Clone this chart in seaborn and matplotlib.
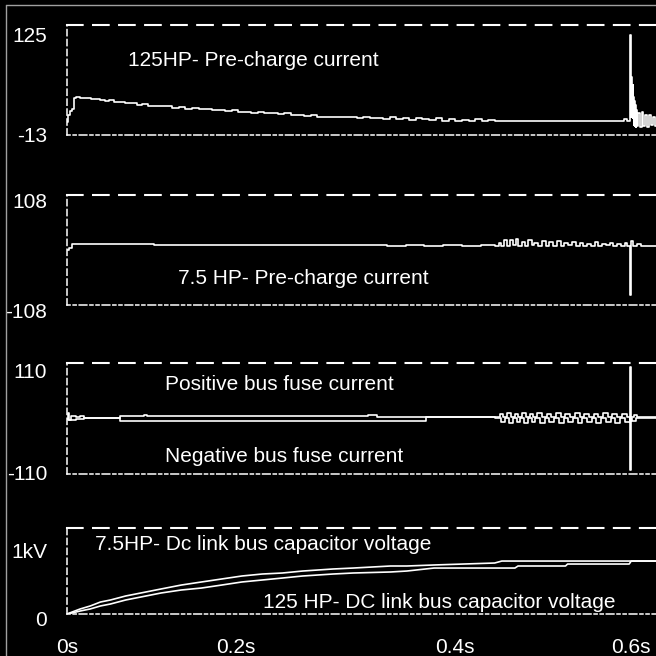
import matplotlib
matplotlib.use("Agg")
import matplotlib.pyplot as plt
import matplotlib.transforms as mtransforms
from matplotlib.lines import Line2D
import seaborn as sns

# ---------------- data ----------------
# Panel 1: 125HP pre-charge current (A)
pc125_t = [0, 0.001, 0.003, 0.005, 0.007, 0.010, 0.014, 0.018, 0.022, 0.026, 0.030, 0.035,
           0.040, 0.045, 0.050, 0.056, 0.062, 0.068, 0.074, 0.080, 0.086, 0.092, 0.098, 0.105,
           0.112, 0.119, 0.126, 0.133, 0.140, 0.147, 0.154, 0.161, 0.168, 0.175, 0.182, 0.189,
           0.196, 0.203, 0.210, 0.217, 0.224, 0.231, 0.238, 0.245, 0.252, 0.259, 0.266, 0.273,
           0.280, 0.287, 0.294, 0.301, 0.308, 0.315, 0.322, 0.329, 0.336, 0.343, 0.350, 0.357,
           0.364, 0.371, 0.378, 0.385, 0.392, 0.399, 0.406, 0.413, 0.420, 0.427, 0.434, 0.441,
           0.448, 0.455, 0.462, 0.590, 0.5915, 0.592, 0.594, 0.595, 0.5985,
           0.5990, 0.5993, 0.5996, 0.5999, 0.6002, 0.6005, 0.6008, 0.6011, 0.6014, 0.6017,
           0.6020, 0.6025, 0.6030, 0.6035, 0.6040, 0.6048, 0.6055, 0.6065, 0.6075, 0.609,
           0.611, 0.613, 0.615, 0.617, 0.619, 0.621, 0.623, 0.625, 0.627, 0.629, 0.631, 0.633]
pc125_v = [3, 12, 17, 20, 33, 35, 34, 33, 34, 32, 32, 31,
           30, 31, 29, 28, 27, 27, 25, 26, 24, 24, 23, 23,
           21, 22, 20, 21, 19, 20, 18, 18, 17, 18, 16, 16,
           15, 16, 14, 14, 13, 14, 12, 12, 11, 12, 10, 10,
           9, 10, 9, 9, 8, 9, 8, 8, 7, 9, 7, 8,
           6, 8, 7, 6, 8, 5, 7, 5, 6, 4, 7, 4,
           6, 4, 5, 5, 5, 7, 7, 4, 4,
           112, 10, 65, 12, 60, 15, 55, 10, 50, 8,
           35, 0, 30, -2, 25, -3, 18, -2, 15, -3,
           16, -2, 12, -3, 12, 0, 10, -2, 8, 0, 6, 0]

# Panel 2: 7.5HP pre-charge current (A)
pc75_t = [0, 0.002, 0.005, 0.090, 0.092, 0.150, 0.200, 0.250, 0.300, 0.320, 0.340, 0.360,
          0.380, 0.400, 0.420, 0.440, 0.455, 0.459, 0.462, 0.465, 0.468, 0.471, 0.474, 0.477,
          0.480, 0.484, 0.487, 0.490, 0.494, 0.497, 0.501, 0.505, 0.509, 0.513, 0.517, 0.521,
          0.525, 0.529, 0.533, 0.537, 0.541, 0.545, 0.549, 0.553, 0.557, 0.561, 0.565, 0.569,
          0.573, 0.577, 0.581, 0.585, 0.589, 0.593, 0.596, 0.5988, 0.5990, 0.5993, 0.600,
          0.602, 0.606, 0.610, 0.633]
pc75_v = [0, 4, 11, 11.5, 9.5, 9.5, 9, 9, 9, 10, 8, 10,
          8, 10, 8, 9, 8, 14, 8, 20, 8, 19, 9, 21,
          8, 16, 8, 19, 9, 14, 8, 17, 8, 15, 8, 17,
          8, 14, 9, 16, 8, 14, 8, 12, 8, 15, 8, 12,
          9, 14, 8, 11, 8, 13, 8, 8, -88, 8, 18,
          8, 11, 8, 8]

# Panel 3: positive / negative bus fuse current (A)
pos_t = [0, 0.001, 0.002, 0.004, 0.010, 0.014, 0.018, 0.055, 0.056, 0.080, 0.082, 0.085,
         0.318, 0.320, 0.328, 0.330, 0.455, 0.460, 0.464, 0.468, 0.472, 0.476, 0.480, 0.484,
         0.488, 0.492, 0.496, 0.500, 0.505, 0.510, 0.515, 0.520, 0.525, 0.530, 0.535, 0.540,
         0.545, 0.550, 0.555, 0.560, 0.565, 0.570, 0.575, 0.580, 0.585, 0.590, 0.595, 0.5988,
         0.5990, 0.5993, 0.603, 0.606, 0.633]
pos_v = [0, 10, -2, 4, 3, 5, 1, 1, 5, 5, 7, 5,
         5, 6, 6, 2.5, 2, 9, 2, 10, 2, 8, 2, 11,
         2, 9, 2, 10, 2, 8, 2, 10, 2, 9, 2, 11,
         2, 8, 2, 9, 2, 10, 2, 8, 2, 9, 2, 2,
         102, 2, 6, 2, 2]
neg_t = [0, 0.001, 0.010, 0.018, 0.055, 0.056, 0.381, 0.382, 0.455, 0.462, 0.466, 0.470,
         0.474, 0.478, 0.482, 0.486, 0.490, 0.494, 0.498, 0.503, 0.508, 0.513, 0.518, 0.523,
         0.528, 0.533, 0.538, 0.543, 0.548, 0.553, 0.558, 0.563, 0.568, 0.573, 0.578, 0.583,
         0.588, 0.593, 0.5985, 0.5990, 0.5993, 0.601, 0.605, 0.633]
neg_v = [0, -3, -1, 1, 1, -4.5, -4.5, 2, 1, -7, 1, -8,
         1, -6, 1, -8, 1, -7, 1, -9, 1, -6, 1, -8,
         1, -7, 1, -8, 1, -6, 1, -8, 1, -7, 1, -8,
         1, -6, 1, -102, 1, -4, 1, 1]

# Panel 4: DC link bus capacitor voltage (kV)
vdc_t = [0, 0.0054, 0.014, 0.0247, 0.0355, 0.0462, 0.0624, 0.0785, 0.100, 0.1215, 0.143,
         0.1645, 0.186, 0.2075, 0.229, 0.2505, 0.2828, 0.3043, 0.3441, 0.3613, 0.3903,
         0.4548, 0.4624, 0.4763, 0.4796, 0.5301, 0.5323, 0.5978, 0.600, 0.6333]
vdc75_kv = [0, 0.029, 0.074, 0.118, 0.176, 0.206, 0.265, 0.309, 0.368, 0.426, 0.471,
            0.515, 0.559, 0.588, 0.603, 0.632, 0.662, 0.676, 0.706, 0.706, 0.721,
            0.750, 0.779, 0.779, 0.779, 0.779, 0.779, 0.779, 0.779, 0.779]
vdc125_kv = [0, 0.015, 0.044, 0.074, 0.118, 0.147, 0.206, 0.250, 0.309, 0.353, 0.382,
             0.426, 0.471, 0.500, 0.529, 0.559, 0.588, 0.603, 0.618, 0.632, 0.676,
             0.676, 0.676, 0.676, 0.706, 0.706, 0.735, 0.735, 0.779, 0.779]

# axis ranges and labels
ylims = [(-13, 125), (-108, 108), (-110, 110), (0, 1.265)]
yticks = [[-13, 125], [-108, 108], [-110, 110], [0, 1.0]]
ytick_labels = [["-13", "125"], ["-108", "108"], ["-110", "110"], ["0", "1kV"]]
xtick_pos = [0.0, 0.18, 0.412, 0.6]
xtick_labels = ["0s", "0.2s", "0.4s", "0.6s"]
t_max = 0.6333

titles = [
    ("125HP- Pre-charge current", 128, 60),
    ("7.5 HP- Pre-charge current", 178, 278),
    ("Positive bus fuse current", 165, 385),
    ("Negative bus fuse current", 165, 456),
    ("7.5HP- Dc link bus capacitor voltage", 95, 545),
    ("125 HP- DC link bus capacitor voltage", 263, 603),
]

# ---------------- style ----------------
sns.set_theme(style="dark")
plt.rcParams["font.family"] = ["Liberation Sans", "DejaVu Sans"]

W = H = 656
fig = plt.figure(figsize=(6.56, 6.56), dpi=100, facecolor="black")

panel_px = [(25, 135), (195, 305), (363, 474), (528, 614)]  # top, bottom in pixels
label_drop_px = [(2, 12), (8, 7), (1, 10), (6, 6)]           # label shift (bottom, top)
left_px = 67
axes = []
for (top, bot) in panel_px:
    ax = fig.add_axes([left_px / W, (H - bot) / H, (W - left_px) / W + 0.01, (bot - top) / H])
    ax.set_facecolor("black")
    axes.append(ax)

FS = 15
lc = "white"
LW = 1.2

sns.lineplot(x=pc125_t, y=pc125_v, ax=axes[0], color=lc, lw=LW, estimator=None, sort=False,
             drawstyle="steps-post")
sns.lineplot(x=pc75_t, y=pc75_v, ax=axes[1], color=lc, lw=LW, estimator=None, sort=False,
             drawstyle="steps-post")
sns.lineplot(x=pos_t, y=pos_v, ax=axes[2], color=lc, lw=LW, estimator=None, sort=False,
             drawstyle="steps-post")
sns.lineplot(x=neg_t, y=neg_v, ax=axes[2], color=lc, lw=LW, estimator=None, sort=False,
             drawstyle="steps-post")
sns.lineplot(x=vdc_t, y=vdc75_kv, ax=axes[3], color=lc, lw=LW, estimator=None, sort=False)
sns.lineplot(x=vdc_t, y=vdc125_kv, ax=axes[3], color=lc, lw=LW, estimator=None, sort=False)

for i, ax in enumerate(axes):
    ax.set_xlim(0, t_max)
    ax.set_ylim(*ylims[i])
    ax.grid(False)
    ax.set_xlabel("")
    ax.set_ylabel("")
    ax.set_yticks([])
    trans = ax.get_yaxis_transform()
    for val, lab, drop in zip(yticks[i], ytick_labels[i], label_drop_px[i]):
        off = mtransforms.ScaledTranslation(-20 / 100, -drop / 100, fig.dpi_scale_trans)
        ax.text(0, val, lab, transform=trans + off, ha="right", va="center",
                color="white", fontsize=FS, clip_on=False)
    if i == 3:
        ax.set_xticks(xtick_pos)
        ax.set_xticklabels(xtick_labels, color="white", fontsize=FS)
        ax.tick_params(axis="x", length=0, pad=17.5)
    else:
        ax.set_xticks([])
    ax.spines["right"].set_visible(False)
    for s in ["top", "left", "bottom"]:
        ax.spines[s].set_visible(True)
        ax.spines[s].set_color("white")
    ax.spines["top"].set_linewidth(1.5)
    ax.spines["top"].set_linestyle((0, (7.5, 5)))
    ax.spines["left"].set_linewidth(1.1)
    ax.spines["left"].set_linestyle((0, (4, 2.5)))
    ax.spines["bottom"].set_linewidth(1.1)
    ax.spines["bottom"].set_linestyle((0, (2, 2, 2, 2, 5, 2)))

for text, xp, yp in titles:
    fig.text(xp / W, 1 - yp / H, text, color="white", fontsize=FS, ha="left", va="center")

# thin grey window frame
fig.add_artist(Line2D([6 / W, 6 / W], [0, 1 - 5 / H], transform=fig.transFigure,
                      color="#a0a0a0", lw=1))
fig.add_artist(Line2D([6 / W, 1], [1 - 5 / H, 1 - 5 / H], transform=fig.transFigure,
                      color="#a0a0a0", lw=1))

fig.savefig("out.png", dpi=100, facecolor="black")
